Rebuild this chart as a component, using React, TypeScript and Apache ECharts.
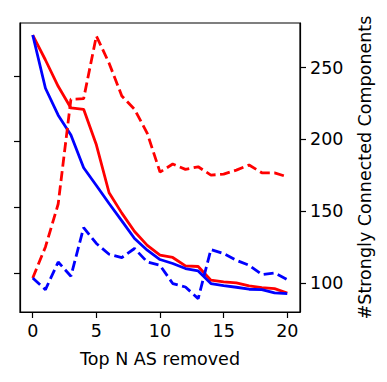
import React, { useEffect, useRef } from "react";
import * as echarts from "echarts";

const topN = [0, 1, 2, 3, 4, 5, 6, 7, 8, 9, 10, 11, 12, 13, 14, 15, 16, 17, 18, 19, 20];
const xTicks = [0, 5, 10, 15, 20];
const rightTicks = [100, 150, 200, 250];
const leftTicks = [1, 2, 3, 4];

// left axis (unlabeled) — solid lines
const redSolid = [4.62, 4.24, 3.84, 3.51, 3.49, 2.95, 2.22, 1.91, 1.63, 1.42, 1.27, 1.235, 1.107, 1.098, 0.889, 0.863, 0.848, 0.802, 0.777, 0.762, 0.695];
const blueSolid = [4.62, 3.81, 3.40, 3.10, 2.60, 2.33, 2.056, 1.793, 1.524, 1.346, 1.204, 1.143, 1.067, 1.03, 0.838, 0.808, 0.782, 0.752, 0.747, 0.695, 0.686];
// right axis — #Strongly Connected Components (dashed)
const redDashed = [103.5, 125.1, 155, 227.9, 228.3, 272, 253, 230.2, 220.9, 204.2, 177.2, 182.8, 179.1, 180.9, 175.1, 175.8, 178.6, 182.1, 176.7, 176.7, 173.9];
const blueDashed = [103.5, 95.4, 114.6, 104.7, 138.6, 127.5, 120, 117.7, 124, 114.6, 112.3, 99.6, 97.2, 89.1, 123.3, 120.5, 115.8, 112.3, 105.9, 107, 102.4];

const FONT = "DejaVu Sans";

export default function App() {
  const ref = useRef<HTMLDivElement>(null);
  useEffect(() => {
    if (!ref.current) return;
    const chart = echarts.init(ref.current, undefined, { renderer: "svg" });
    const pair = (arr: number[]) => topN.map((n, i) => [n, arr[i]]);
    const line = (name: string, arr: number[], color: string, dashed: boolean, yAxisIndex: number) => ({
      name,
      type: "line",
      yAxisIndex,
      data: pair(arr),
      showSymbol: false,
      symbol: "none",
      lineStyle: { color, width: 2.8, type: dashed ? [10, 4.5] : "solid", cap: "butt" },
      z: 3,
    });
    chart.setOption({
      animation: false,
      backgroundColor: "#fff",
      grid: { left: 20, right: 87, top: 23, bottom: 70, show: true, borderColor: "#000", borderWidth: 1.2, backgroundColor: "transparent" },
      xAxis: {
        type: "value",
        min: -1,
        max: 21,
        axisLine: { show: true, onZero: false, lineStyle: { color: "#000", width: 1.2 } },
        axisTick: { show: true, length: 6, lineStyle: { color: "#000", width: 1.2 }, customValues: xTicks },
        axisLabel: { customValues: xTicks, fontSize: 17.5, color: "#000", fontFamily: FONT, margin: 10 },
        splitLine: { show: false },
        name: "Top N AS removed",
        nameLocation: "middle",
        nameGap: 38,
        nameTextStyle: { fontSize: 17.5, color: "#000", fontFamily: FONT },
      },
      yAxis: [
        {
          type: "value",
          position: "left",
          min: 0.4055,
          max: 4.803,
          axisLine: { show: true, onZero: false, lineStyle: { color: "#000", width: 1.2 } },
          axisTick: { show: true, length: 6, lineStyle: { color: "#000", width: 1.2 }, customValues: leftTicks },
          axisLabel: { show: false, customValues: leftTicks },
          splitLine: { show: false },
        },
        {
          type: "value",
          position: "right",
          min: 79.8,
          max: 281,
          axisLine: { show: true, onZero: false, lineStyle: { color: "#000", width: 1.2 } },
          axisTick: { show: true, length: 6, lineStyle: { color: "#000", width: 1.2 }, customValues: rightTicks },
          axisLabel: { customValues: rightTicks, fontSize: 17.5, color: "#000", fontFamily: FONT, margin: 10 },
          splitLine: { show: false },
          name: "#Strongly Connected Components",
          nameLocation: "middle",
          nameRotate: 90,
          nameGap: 56,
          nameTextStyle: { fontSize: 17.5, color: "#000", fontFamily: FONT },
        },
      ],
      series: [
        line("red solid", redSolid, "#ff0000", false, 0),
        line("blue solid", blueSolid, "#0000ff", false, 0),
        line("red dashed", redDashed, "#ff0000", true, 1),
        line("blue dashed", blueDashed, "#0000ff", true, 1),
      ],
    });
    return () => chart.dispose();
  }, []);
  return <div ref={ref} style={{ position: "absolute", left: 0, top: 0, width: 387, height: 382 }} />;
}
